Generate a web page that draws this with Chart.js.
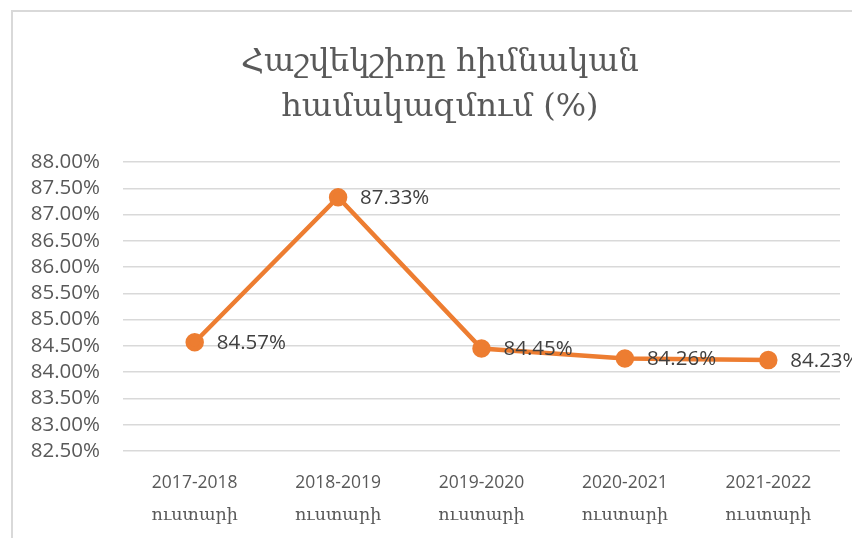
<!DOCTYPE html>
<html>
<head>
<meta charset="utf-8">
<script src="https://cdn.jsdelivr.net/npm/chart.js@4"></script>
<style>
  html, body { margin: 0; padding: 0; background: #ffffff; }
  body { width: 852px; height: 538px; overflow: hidden; position: relative; }
  #frame { position: absolute; left: 11px; top: 10px; width: 900px; height: 600px;
           border-left: 2px solid #d9d9d9; border-top: 2px solid #d9d9d9; box-sizing: border-box; }
  #wrap { position: absolute; left: 0; top: 0; width: 880px; height: 538px; }
</style>
</head>
<body>
<div id="frame"></div>
<div id="wrap"><canvas id="c"></canvas></div>
<script>
const titleLines = ['Հաշվեկշիռը հիմնական', 'համակազմում (%)'];
const categories = [
  ['2017-2018', 'ուստարի'],
  ['2018-2019', 'ուստարի'],
  ['2019-2020', 'ուստարի'],
  ['2020-2021', 'ուստարի'],
  ['2021-2022', 'ուստարի']
];
const values = [84.57, 87.33, 84.45, 84.26, 84.23];
const yMin = 82.5;
const yMax = 88;
const yStep = 0.5;

const dataLabels = {
  id: 'dataLabels',
  afterDatasetsDraw(chart) {
    const ctx = chart.ctx;
    const meta = chart.getDatasetMeta(0);
    ctx.save();
    ctx.font = '20.5px "Open Sans", "Liberation Sans", sans-serif';
    ctx.fillStyle = '#404040';
    ctx.textAlign = 'left';
    ctx.textBaseline = 'middle';
    meta.data.forEach((pt, i) => {
      ctx.fillText(values[i].toFixed(2) + '%', pt.x + 22, pt.y + 1);
    });
    ctx.restore();
  }
};

new Chart(document.getElementById('c'), {
  type: 'line',
  data: {
    labels: categories,
    datasets: [{
      data: values,
      borderColor: '#ED7D31',
      backgroundColor: '#ED7D31',
      borderWidth: 4.5,
      pointRadius: 7,
      pointHoverRadius: 7,
      pointBackgroundColor: '#ED7D31',
      pointBorderColor: '#ED7D31',
      tension: 0,
      fill: false,
      clip: false
    }]
  },
  options: {
    responsive: true,
    maintainAspectRatio: false,
    animation: false,
    layout: { padding: { top: 0, right: 0, bottom: 7, left: 0 } },
    plugins: {
      legend: { display: false },
      tooltip: { enabled: false },
      title: {
        display: true,
        text: titleLines,
        color: '#595959',
        font: { family: '"DejaVu Serif", serif', size: 32, weight: 'normal', lineHeight: '45px' },
        padding: { top: 40, bottom: 32 }
      }
    },
    scales: {
      x: {
        offset: true,
        afterFit(scale) { scale.height = 80; },
        grid: { display: false, drawTicks: false },
        border: { display: false },
        ticks: {
          color: '#595959',
          autoSkip: false,
          maxRotation: 0,
          padding: 16,
          font: { family: '"Open Sans", "DejaVu Serif", sans-serif', size: 17.5, lineHeight: '32px' }
        }
      },
      y: {
        min: yMin,
        max: yMax,
        afterFit(scale) { scale.width = 123; },
        grid: { color: '#d9d9d9', lineWidth: 1.5, drawTicks: false },
        border: { display: false },
        ticks: {
          stepSize: yStep,
          autoSkip: false,
          color: '#595959',
          padding: 23,
          font: { family: '"Open Sans", "Liberation Sans", sans-serif', size: 20.5 },
          callback: (v) => Number(v).toFixed(2) + '%'
        }
      },
      yRight: {
        position: 'right',
        display: true,
        min: yMin,
        max: yMax,
        afterFit(scale) { scale.width = 40; },
        grid: { display: false, drawTicks: false },
        border: { display: false },
        ticks: { display: false }
      }
    }
  },
  plugins: [dataLabels]
});
</script>
</body>
</html>
